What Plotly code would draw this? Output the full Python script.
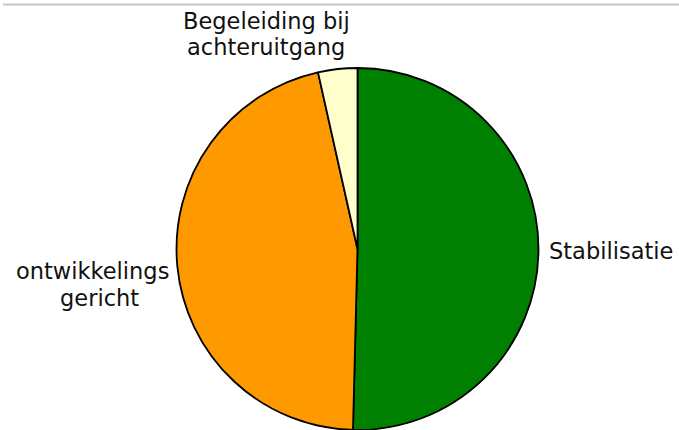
import plotly.graph_objects as go

W, H = 679, 430

labels = ["Stabilisatie", "ontwikkelingsgericht", "Begeleiding bij achteruitgang"]
values = [50.4, 46.1, 3.5]
colors = ["#008000", "#ff9900", "#ffffcc"]

# label text lines and their approximate pixel positions (center x, center y)
label_lines = [
    ("Begeleiding bij", 266, 21),
    ("achteruitgang", 266, 47),
    ("ontwikkelings", 92, 271),
    ("gericht", 99, 298),
    ("Stabilisatie", 611, 251),
]

cx, cy, r = 357.5, 249, 181

fig = go.Figure(go.Pie(
    labels=labels,
    values=values,
    marker=dict(colors=colors, line=dict(color="black", width=1.8)),
    sort=False,
    direction="clockwise",
    rotation=0,
    textinfo="none",
    hoverinfo="label+percent",
    showlegend=False,
    domain=dict(x=[(cx - r) / W, (cx + r) / W], y=[1 - (cy + r) / H, 1 - (cy - r) / H]),
))

annotations = []
for txt, x, y in label_lines:
    annotations.append(dict(
        text=txt, x=x / W, y=1 - y / H, xref="paper", yref="paper",
        xanchor="center", yanchor="middle", showarrow=False,
        font=dict(family="DejaVu Sans", size=22.5, color="#111111"),
    ))

fig.update_layout(
    width=W, height=H,
    margin=dict(l=0, r=0, t=0, b=0),
    paper_bgcolor="white",
    plot_bgcolor="white",
    annotations=annotations,
    shapes=[dict(type="line", xref="paper", yref="paper",
                 x0=3 / W, x1=1, y0=1 - 4.5 / H, y1=1 - 4.5 / H,
                 line=dict(color="#c8c8c8", width=2))],
)

fig.write_html("out.html", config={"displayModeBar": False},
               post_script="document.body.style.margin='0';document.body.style.overflow='hidden';")
